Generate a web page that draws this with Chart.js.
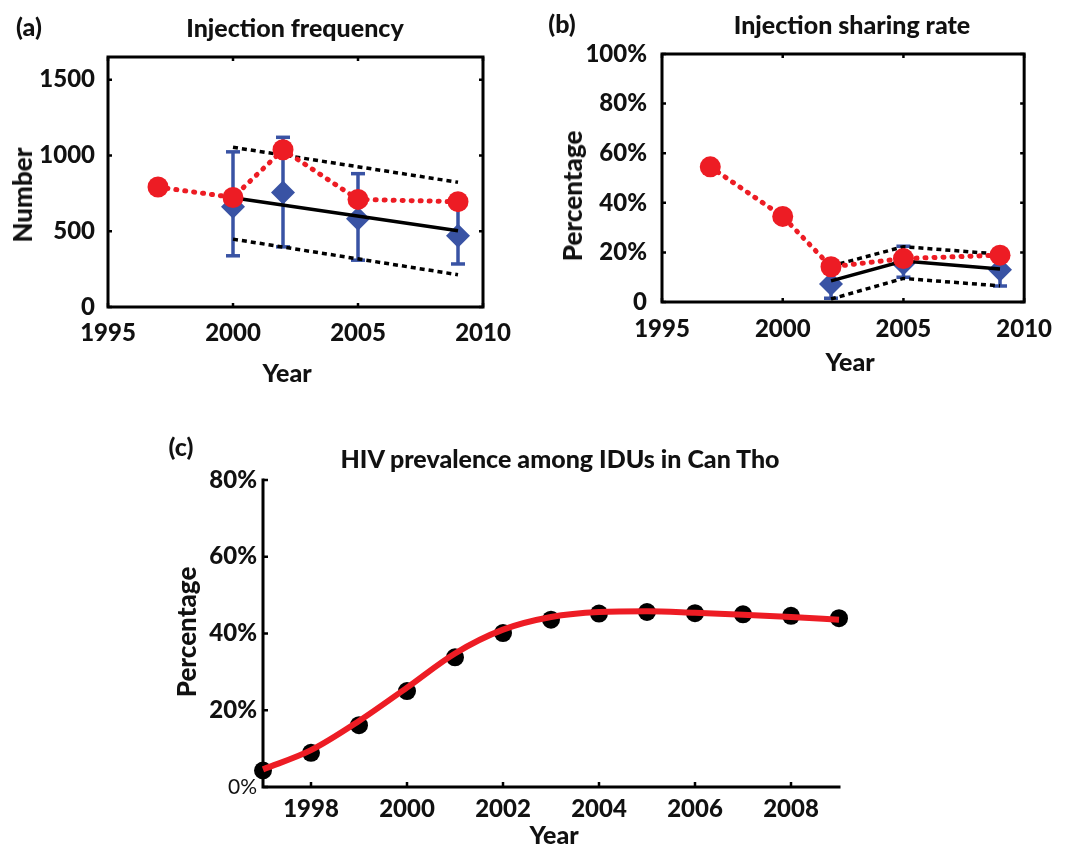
<!DOCTYPE html>
<html>
<head>
<meta charset="utf-8">
<script src="https://cdn.jsdelivr.net/npm/chart.js@4.4.1/dist/chart.umd.min.js"></script>
<style>
body { margin: 0; background: #fff; width: 1065px; height: 846px; position: relative; overflow: hidden; font-family: Lato, sans-serif; }
canvas { position: absolute; }
.t { position: absolute; font-weight: 900; color: #111; white-space: nowrap; transform: translate(-50%, -50%); }
.v { transform: translate(-50%, -50%) rotate(-90deg); }
</style>
</head>
<body>
<canvas id="chartA" width="530" height="400" style="left:0;top:0"></canvas>
<canvas id="chartB" width="535" height="400" style="left:530px;top:0"></canvas>
<canvas id="chartC" width="750" height="426" style="left:150px;top:420px"></canvas>

<div class="t" style="left:29px;top:26px;font-size:25px">(a)</div>
<div class="t" style="left:295px;top:27px;font-size:25px">Injection frequency</div>
<div class="t v" style="left:22px;top:195px;font-size:26px">Number</div>
<div class="t" style="left:287px;top:372px;font-size:25px">Year</div>

<div class="t" style="left:562px;top:23px;font-size:25px">(b)</div>
<div class="t" style="left:852px;top:24px;font-size:25px">Injection sharing rate</div>
<div class="t v" style="left:572px;top:196px;font-size:26px">Percentage</div>
<div class="t" style="left:850px;top:361px;font-size:25px">Year</div>

<div class="t" style="left:181px;top:446px;font-size:25px">(c)</div>
<div class="t" style="left:560px;top:458px;font-size:25px">HIV prevalence among IDUs in Can Tho</div>
<div class="t v" style="left:186px;top:632px;font-size:26px">Percentage</div>
<div class="t" style="left:554px;top:834px;font-size:25px">Year</div>

<script>
// (a) injection frequency
const surveyYearsA = [1997, 2000, 2002, 2005, 2009];
const freqReported = [792, 723, 1038, 710, 695];
const modelYearsA = [2000, 2002, 2005, 2009];
const freqModel = [662, 755, 583, 470];
const freqErrLow = [338, 397, 309, 284];
const freqErrHigh = [1024, 1120, 880, 655];
const fitYearsA = [2000, 2009];
const freqFit = [721, 503];
const freqFitUpper = [1054, 823];
const freqFitLower = [448, 213];
const yTicksA = [0, 500, 1000, 1500];
const yLabelsA = ['0', '500', '1000', '1500'];

// (b) injection sharing rate (%)
const surveyYearsB = [1997, 2000, 2002, 2005, 2009];
const shareReported = [54.5, 34.5, 14.2, 17.5, 18.9];
const modelYearsB = [2002, 2005, 2009];
const shareModel = [7.3, 15.5, 13.0];
const shareErrLow = [1.5, 10.0, 6.5];
const shareErrHigh = [14.0, 22.5, 19.0];
const shareFit = [8.5, 16.5, 13.3];
const shareFitUpper = [14.5, 22.3, 19.3];
const shareFitLower = [1.2, 9.5, 6.5];
const yTicksB = [0, 20, 40, 60, 80, 100];
const yLabelsB = ['0', '20%', '40%', '60%', '80%', '100%'];

const xTicksAB = [1995, 2000, 2005, 2010];
const xLabelsAB = ['1995', '2000', '2005', '2010'];

// (c) HIV prevalence among IDUs in Can Tho (%)
const yearsC = [1997, 1998, 1999, 2000, 2001, 2002, 2003, 2004, 2005, 2006, 2007, 2008, 2009];
const prevData = [4.3, 8.9, 16.1, 25.0, 33.8, 40.1, 43.6, 45.2, 45.6, 45.3, 45.0, 44.6, 44.0];
const prevModel = [4.6, 9.6, 17.2, 25.9, 34.8, 41.0, 44.3, 45.6, 45.8, 45.4, 44.9, 44.3, 43.6];
const xTicksC = [1998, 2000, 2002, 2004, 2006, 2008];
const xLabelsC = ['1998', '2000', '2002', '2004', '2006', '2008'];
const yTicksC = [0, 20, 40, 60, 80];
const yLabelsC = ['0%', '20%', '40%', '60%', '80%'];

const RED = '#ED1C24';
const BLUE = '#3953A4';
const INK = '#111';

function pts(xs, ys) {
  return xs.map((x, i) => ({ x: x, y: ys[i] }));
}

// frame + inward tick marks, drawn from the chart's own scales
const framePlugin = {
  id: 'frame',
  beforeDatasetsDraw(chart, args, opts) {
    const ctx = chart.ctx, a = chart.chartArea;
    const x = chart.scales.x, y = chart.scales.y;
    ctx.save();
    ctx.strokeStyle = '#000';
    ctx.lineWidth = 3;
    ctx.lineCap = 'square';
    ctx.beginPath();
    if (opts.box) {
      ctx.rect(a.left, a.top, a.right - a.left, a.bottom - a.top);
    } else {
      ctx.moveTo(a.left, a.top);
      ctx.lineTo(a.left, a.bottom);
      ctx.lineTo(a.right, a.bottom);
    }
    ctx.stroke();
    ctx.lineWidth = 2.5;
    ctx.lineCap = 'butt';
    ctx.beginPath();
    x.ticks.forEach(t => {
      const px = x.getPixelForValue(t.value);
      ctx.moveTo(px, a.bottom); ctx.lineTo(px, a.bottom - opts.tick);
      if (opts.box) { ctx.moveTo(px, a.top); ctx.lineTo(px, a.top + opts.tick); }
    });
    y.ticks.forEach(t => {
      const py = y.getPixelForValue(t.value);
      ctx.moveTo(a.left, py); ctx.lineTo(a.left + opts.tick, py);
      if (opts.box) { ctx.moveTo(a.right, py); ctx.lineTo(a.right - opts.tick, py); }
    });
    ctx.stroke();
    ctx.restore();
  }
};

const tickFont = { family: 'Lato', weight: '900', size: 24 };

function xScale(min, max, ticks, labels, height, pad) {
  return {
    type: 'linear', min: min, max: max,
    afterBuildTicks: s => { s.ticks = ticks.map(v => ({ value: v })); },
    afterFit: s => { s.height = height; },
    grid: { display: false, drawTicks: false }, border: { display: false },
    ticks: { font: tickFont, color: INK, padding: pad, maxRotation: 0, autoSkip: false,
      callback: (v, i) => labels[i] }
  };
}

function yScale(min, max, ticks, labels, width, pad, font) {
  return {
    type: 'linear', min: min, max: max,
    afterBuildTicks: s => { s.ticks = ticks.map(v => ({ value: v })); },
    afterFit: s => { s.width = width; },
    grid: { display: false, drawTicks: false }, border: { display: false },
    ticks: { font: font || tickFont, color: INK, padding: pad, autoSkip: false,
      callback: (v, i) => labels[i] }
  };
}

function errorBars(years, lo, hi) {
  return years.map((yr, i) => ({
    data: [{ x: yr, y: lo[i] }, { x: yr, y: hi[i] }],
    borderColor: BLUE, borderWidth: 3.5,
    pointStyle: 'line', pointRadius: 7, pointBorderWidth: 3.5,
    pointBorderColor: BLUE, pointBackgroundColor: BLUE
  }));
}

function reportedSet(xs, ys) {
  return {
    data: pts(xs, ys), borderColor: RED, borderWidth: 5,
    borderDash: [1, 8], borderCapStyle: 'round',
    pointRadius: 10.5, pointBackgroundColor: RED, pointBorderWidth: 0
  };
}
function modelSet(xs, ys) {
  return {
    data: pts(xs, ys), showLine: false, pointStyle: 'rectRot',
    pointRadius: 12, pointBackgroundColor: BLUE, pointBorderWidth: 0
  };
}
function fitSet(xs, ys) {
  return { data: pts(xs, ys), borderColor: '#000', borderWidth: 3.5, pointRadius: 0 };
}
function boundSet(xs, ys) {
  return { data: pts(xs, ys), borderColor: '#000', borderWidth: 3.5, borderDash: [5, 4], pointRadius: 0 };
}

const common = {
  responsive: false, animation: false,
  plugins: { legend: { display: false }, tooltip: { enabled: false } }
};

new Chart(document.getElementById('chartA'), {
  type: 'line',
  data: {
    datasets: [
      reportedSet(surveyYearsA, freqReported),
      fitSet(fitYearsA, freqFit),
      modelSet(modelYearsA, freqModel),
      boundSet(fitYearsA, freqFitUpper),
      boundSet(fitYearsA, freqFitLower)
    ].concat(errorBars(modelYearsA, freqErrLow, freqErrHigh))
  },
  options: Object.assign({}, common, {
    layout: { autoPadding: false, padding: { top: 57, right: 47, left: 0, bottom: 0 } },
    scales: {
      x: xScale(1995, 2010, xTicksAB, xLabelsAB, 93, 12),
      y: yScale(0, 1650, yTicksA, yLabelsA, 108, 13)
    },
    plugins: Object.assign({}, common.plugins, { frame: { box: true, tick: 4 } })
  }),
  plugins: [framePlugin]
});

new Chart(document.getElementById('chartB'), {
  type: 'line',
  data: {
    datasets: [
      reportedSet(surveyYearsB, shareReported),
      fitSet(modelYearsB, shareFit),
      modelSet(modelYearsB, shareModel),
      boundSet(modelYearsB, shareFitUpper),
      boundSet(modelYearsB, shareFitLower)
    ].concat(errorBars(modelYearsB, shareErrLow, shareErrHigh))
  },
  options: Object.assign({}, common, {
    layout: { autoPadding: false, padding: { top: 54, right: 27, left: 0, bottom: 0 } },
    scales: {
      x: xScale(1995, 2010, xTicksAB, xLabelsAB, 98, 13),
      y: yScale(0, 100, yTicksB, yLabelsB, 132, 15)
    },
    plugins: Object.assign({}, common.plugins, { frame: { box: true, tick: 4 } })
  }),
  plugins: [framePlugin]
});

new Chart(document.getElementById('chartC'), {
  type: 'line',
  data: {
    datasets: [
      { data: pts(yearsC, prevModel), borderColor: RED, borderWidth: 6, pointRadius: 0,
        cubicInterpolationMode: 'monotone', clip: false },
      { data: pts(yearsC, prevData), showLine: false, pointRadius: 9,
        pointBackgroundColor: '#000', pointBorderWidth: 0, clip: false }
    ]
  },
  options: Object.assign({}, common, {
    layout: { autoPadding: false, padding: { top: 60, right: 61, left: 0, bottom: 0 } },
    scales: {
      x: xScale(1997, 2009, xTicksC, xLabelsC, 59, 8),
      y: yScale(0, 80, yTicksC, yLabelsC, 113, 6,
        ctx => ctx.tick && ctx.tick.value === 0
          ? { family: 'Lato', weight: 'normal', size: 21 }
          : tickFont)
    },
    plugins: Object.assign({}, common.plugins, { frame: { box: false, tick: 5 } })
  }),
  plugins: [framePlugin]
});
</script>
</body>
</html>
